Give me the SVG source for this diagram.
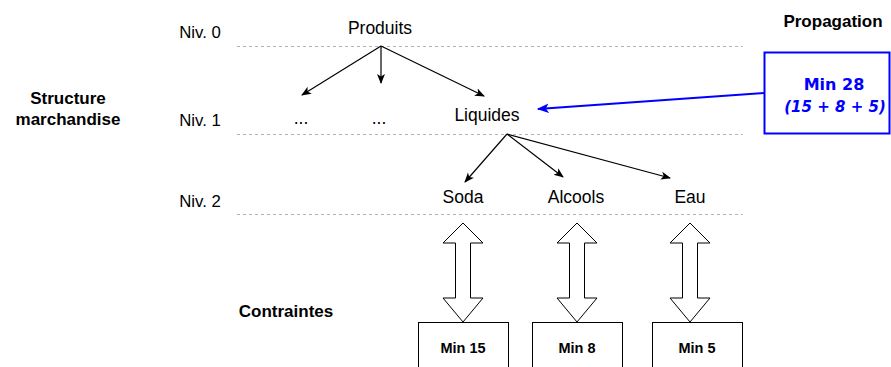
<svg xmlns="http://www.w3.org/2000/svg" width="891" height="367" viewBox="0 0 891 367">
<style>
.t{font-family:"Liberation Sans",Arial,sans-serif;font-size:17.5px;fill:#000;text-anchor:middle}
.n{font-family:"Liberation Sans",Arial,sans-serif;font-size:16.8px;fill:#000;text-anchor:middle}
.b{font-family:"Liberation Sans",Arial,sans-serif;font-size:17px;font-weight:bold;fill:#000;text-anchor:middle}
.s{font-family:"Liberation Sans",Arial,sans-serif;font-size:14.5px;font-weight:bold;fill:#000;text-anchor:middle}
.blue{font-family:"Comic Sans MS","DejaVu Sans",sans-serif;font-weight:bold;fill:#0000FF;text-anchor:middle}
.dash{stroke:#b3b3b3;stroke-width:1;stroke-dasharray:3 3;fill:none}
.edge{stroke:#000;stroke-width:1.2;fill:none;marker-end:url(#ah)}
.dbl{fill:#fff;stroke:#000;stroke-width:1}
.box{fill:#fff;stroke:#000;stroke-width:1}
</style>
<defs>
<marker id="ah" viewBox="0 0 10 10" refX="9" refY="5" markerWidth="10" markerHeight="10" markerUnits="userSpaceOnUse" orient="auto">
<path d="M0,1 L10,5 L0,9 L2.5,5 Z" fill="#000"/>
</marker>
<marker id="ahb" viewBox="0 0 10 10" refX="9" refY="5" markerWidth="12" markerHeight="12" markerUnits="userSpaceOnUse" orient="auto">
<path d="M0,1 L10,5 L0,9 L2.5,5 Z" fill="#0000FF"/>
</marker>
</defs>

<g id="levels">
<line class="dash" x1="237" y1="46.5" x2="743" y2="46.5"/>
<line class="dash" x1="237" y1="134.5" x2="743" y2="134.5"/>
<line class="dash" x1="237" y1="214.5" x2="743" y2="214.5"/>
<text class="n" x="200" y="38">Niv. 0</text>
<text class="n" x="200" y="126">Niv. 1</text>
<text class="n" x="200" y="207">Niv. 2</text>
</g>

<g id="labels">
<text class="b" x="68" y="104">Structure</text>
<text class="b" x="68" y="125">marchandise</text>
<text class="b" x="833" y="27">Propagation</text>
<text class="b" x="286" y="317">Contraintes</text>
</g>

<g id="node-produits"><text class="t" x="380" y="34">Produits</text></g>
<g id="node-dots1"><text class="t" x="301" y="124">...</text></g>
<g id="node-dots2"><text class="t" x="379" y="124">...</text></g>
<g id="node-liquides"><text class="t" x="487" y="121">Liquides</text></g>
<g id="node-soda"><text class="t" x="463" y="203">Soda</text></g>
<g id="node-alcools"><text class="t" x="576" y="203">Alcools</text></g>
<g id="node-eau"><text class="t" x="690" y="203">Eau</text></g>

<g id="node-min28">
<rect x="764.5" y="52.5" width="125" height="81" fill="#fff" stroke="#0000FF" stroke-width="2"/>
<text class="blue" x="834" y="90" font-size="16">Min 28</text>
<text class="blue" x="835" y="112" font-size="15" font-style="italic" font-weight="normal">(15 + 8 + 5)</text>
</g>

<g id="node-min15"><rect class="box" x="418.5" y="322.5" width="90" height="60"/><text class="s" x="463" y="353">Min 15</text></g>
<g id="node-min8"><rect class="box" x="532.5" y="322.5" width="90" height="60"/><text class="s" x="577" y="353">Min 8</text></g>
<g id="node-min5"><rect class="box" x="652.5" y="322.5" width="90" height="60"/><text class="s" x="697" y="353">Min 5</text></g>

<g id="connectors">
<line class="edge" x1="381" y1="46" x2="302" y2="95"/>
<line class="edge" x1="381" y1="46" x2="381" y2="83"/>
<line class="edge" x1="381" y1="46" x2="484" y2="96"/>
<line class="edge" x1="507" y1="134" x2="465" y2="182"/>
<line class="edge" x1="507" y1="134" x2="563" y2="177"/>
<line class="edge" x1="507" y1="134" x2="670" y2="178"/>
<line x1="764" y1="93" x2="538" y2="109" stroke="#0000FF" stroke-width="2" marker-end="url(#ahb)"/>
<polygon class="dbl" points="463,223 483,243 470.5,243 470.5,298 483,298 463,322 443,298 455.5,298 455.5,243 443,243"/>
<polygon class="dbl" points="577,223 597,243 584.5,243 584.5,298 597,298 577,322 557,298 569.5,298 569.5,243 557,243"/>
<polygon class="dbl" points="690,223 710,243 697.5,243 697.5,298 710,298 690,322 670,298 682.5,298 682.5,243 670,243"/>
</g>
</svg>
